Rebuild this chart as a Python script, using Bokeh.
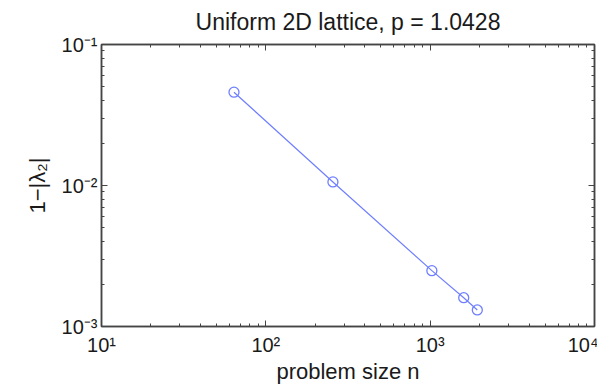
from bokeh.plotting import figure
from bokeh.models import LogAxis, FixedTicker, CustomJSTickFormatter, Range1d
from bokeh.embed import file_html
from bokeh.resources import INLINE

# data
n_sizes = [64, 256, 1024, 1600, 1936]
gap = [0.0459, 0.0106, 0.00249, 0.00160, 0.00131]

x_limits = [10, 10000]
y_limits = [0.001, 0.1]

x_major = [10, 100, 1000, 10000]
y_major = [0.001, 0.01, 0.1]
minor_mult = [2, 3, 4, 5, 6, 7, 8, 9]

title_text = "Uniform 2D lattice, p = 1.0428"
x_label = "problem size n"
y_label = "1\u2212|\u03bb\u2082|"

FONT = "Liberation Sans"
BLUE = "#6f7fff"
DARK = "#1a1a1a"

x_minor = [m * d for d in x_major[:-1] for m in minor_mult]
y_minor = [m * d for d in y_major[:-1] for m in minor_mult]

sup_fmt = CustomJSTickFormatter(code="""
const sup = {'-':'\u207b','0':'\u2070','1':'\u00b9','2':'\u00b2','3':'\u00b3','4':'\u2074','5':'\u2075','6':'\u2076','7':'\u2077','8':'\u2078','9':'\u2079'};
const e = Math.round(Math.log10(tick));
return '10' + String(e).split('').map(c => sup[c]).join('');
""")

blank_fmt = CustomJSTickFormatter(code="return ' ';")

p = figure(frame_width=493, frame_height=282,
           x_axis_type="log", y_axis_type="log",
           x_range=Range1d(*x_limits), y_range=Range1d(*y_limits),
           output_backend="svg", toolbar_location=None,
           min_border_left=101, min_border_right=3,
           min_border_top=44, min_border_bottom=59)

p.title.text = title_text
p.title.align = "center"
p.title.text_font = FONT
p.title.text_font_size = "23px"
p.title.text_font_style = "normal"
p.title.text_color = DARK
p.title.offset = 0
p.title.standoff = 9

p.grid.visible = False
p.outline_line_color = "#444444"
p.outline_line_width = 1.5

def style_axis(ax, major, minor, show_labels=True):
    ax.ticker = FixedTicker(ticks=major, minor_ticks=minor)
    ax.major_tick_in = 6
    ax.major_tick_out = 0
    ax.minor_tick_in = 3
    ax.minor_tick_out = 0
    ax.axis_line_color = "#444444"
    ax.axis_line_width = 1.5
    ax.major_tick_line_color = "#444444"
    ax.minor_tick_line_color = "#444444"
    ax.major_label_text_font = FONT
    ax.major_label_text_color = DARK
    if show_labels:
        ax.formatter = sup_fmt
        ax.major_label_text_font_size = "20px"
        ax.axis_label_text_font = FONT
        ax.axis_label_text_font_size = "22px"
        ax.axis_label_text_font_style = "normal"
        ax.axis_label_text_color = DARK
    else:
        ax.formatter = blank_fmt
        ax.major_label_text_font_size = "2px"
        ax.major_label_standoff = 0

style_axis(p.xaxis[0], x_major, x_minor)
style_axis(p.yaxis[0], y_major, y_minor)
p.xaxis[0].axis_label = x_label
p.yaxis[0].axis_label = y_label
p.xaxis[0].major_label_standoff = 7
p.xaxis[0].axis_label_standoff = 0
p.yaxis[0].major_label_standoff = 4
p.yaxis[0].axis_label_standoff = 9

top_ax = LogAxis()
right_ax = LogAxis()
style_axis(top_ax, x_major, x_minor, False)
style_axis(right_ax, y_major, y_minor, False)
p.add_layout(top_ax, "above")
p.add_layout(right_ax, "right")

p.line(n_sizes, gap, line_color=BLUE, line_width=1.2)
p.scatter(n_sizes, gap, marker="circle", size=10, fill_color=None,
          line_color=BLUE, line_width=1.3)

open("out.html", "w").write(file_html(p, INLINE))
